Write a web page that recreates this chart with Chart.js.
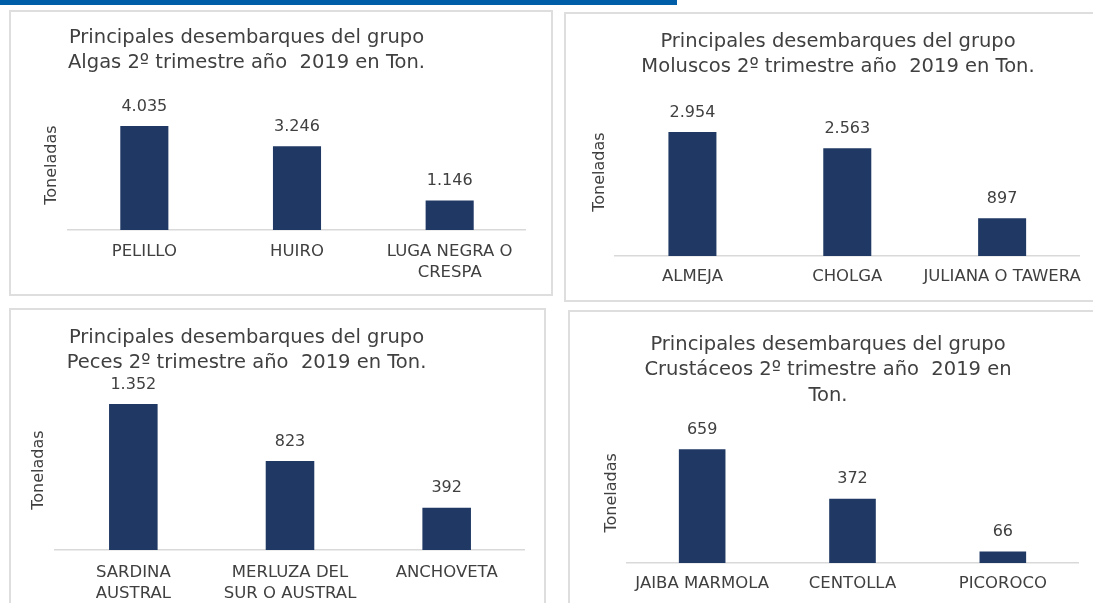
<!DOCTYPE html>
<html>
<head>
<meta charset="utf-8">
<script src="https://cdn.jsdelivr.net/npm/chart.js@4/dist/chart.umd.min.js"></script>
<style>
  html, body { margin: 0; padding: 0; background: #fff; overflow: hidden; }
  body { width: 1093px; height: 603px; position: relative; }
  .topbar { position: absolute; left: 0; top: 0; width: 677px; height: 5px; background: #005ea8; }
  .panel { position: absolute; box-sizing: border-box; border: 2px solid #dedede; }
  canvas { position: absolute; }
</style>
</head>
<body>
<div class="topbar"></div>
<div class="panel" style="left:9px;top:10px;width:544px;height:286px"></div>
<div class="panel" style="left:564px;top:12px;width:540px;height:290px"></div>
<div class="panel" style="left:9px;top:308px;width:537px;height:320px"></div>
<div class="panel" style="left:568px;top:310px;width:540px;height:320px"></div>

<canvas id="algasChart" width="559" height="283" style="left:-33px;top:11px"></canvas>
<canvas id="moluscosChart" width="517" height="283" style="left:576px;top:14px"></canvas>
<canvas id="pecesChart" width="557" height="306" style="left:-32px;top:310px"></canvas>
<canvas id="crustaceosChart" width="533" height="292" style="left:560px;top:312px"></canvas>

<script>
// data
const algasLabels = ["PELILLO", "HUIRO", ["LUGA NEGRA O", "CRESPA"]];
const algasValues = [4035, 3246, 1146];
const algasTitle = ["Principales desembarques del grupo", "Algas 2º trimestre año  2019 en Ton."];

const moluscosLabels = ["ALMEJA", "CHOLGA", "JULIANA O TAWERA"];
const moluscosValues = [2954, 2563, 897];
const moluscosTitle = ["Principales desembarques del grupo", "Moluscos 2º trimestre año  2019 en Ton."];

const pecesLabels = [["SARDINA", "AUSTRAL"], ["MERLUZA DEL", "SUR O AUSTRAL"], "ANCHOVETA"];
const pecesValues = [1352, 823, 392];
const pecesTitle = ["Principales desembarques del grupo", "Peces 2º trimestre año  2019 en Ton."];

const crustaceosLabels = ["JAIBA MARMOLA", "CENTOLLA", "PICOROCO"];
const crustaceosValues = [659, 372, 66];
const crustaceosTitle = ["Principales desembarques del grupo", "Crustáceos 2º trimestre año  2019 en", "Ton."];

const FONT = "'DejaVu Sans', 'Open Sans', sans-serif";
const TEXT = "#404040";
const BAR = "#1f3864";

// value labels above the bars, 4035 -> 4.035
function fmt(v) {
  return String(v).replace(/\B(?=(\d{3})+(?!\d))/g, ".");
}

const barValues = {
  id: "barValues",
  afterDatasetsDraw(chart) {
    const ctx = chart.ctx;
    ctx.save();
    ctx.font = "16px " + FONT;
    ctx.fillStyle = TEXT;
    ctx.textAlign = "center";
    ctx.textBaseline = "middle";
    chart.getDatasetMeta(0).data.forEach((bar, i) => {
      ctx.fillText(fmt(chart.data.datasets[0].data[i]), bar.x, bar.y - 19.5);
    });
    ctx.restore();
  },
};

function makeChart(id, labels, values, title, o) {
  new Chart(document.getElementById(id), {
    type: "bar",
    data: {
      labels: labels,
      datasets: [
        {
          data: values,
          backgroundColor: BAR,
          categoryPercentage: 1,
          barPercentage: o.barPct,
        },
      ],
    },
    options: {
      responsive: false,
      animation: false,
      layout: { padding: { left: o.padLeft, right: o.padRight, top: 0, bottom: 0 } },
      plugins: {
        legend: { display: false },
        tooltip: { enabled: false },
        title: {
          display: true,
          text: title,
          align: "center",
          color: TEXT,
          font: { family: FONT, size: 19.5, weight: "normal", lineHeight: 1.311 },
          padding: { top: o.titleTop, bottom: o.titleBottom },
        },
      },
      scales: {
        x: {
          grid: { display: false, drawTicks: false },
          border: { display: true, color: "#d9d9d9", width: 1.5 },
          ticks: {
            color: TEXT,
            padding: o.tickPad,
            font: { family: FONT, size: 16.5, lineHeight: 1.273 },
            maxRotation: 0,
            autoSkip: false,
          },
        },
        y: {
          min: 0,
          max: o.max,
          grid: { display: false, drawTicks: false },
          border: { display: false },
          ticks: { display: false },
          title: {
            display: true,
            text: "Toneladas",
            color: TEXT,
            font: { family: FONT, size: 16 },
            padding: { top: o.yTitleTop, bottom: o.yTitleBottom },
          },
        },
      },
    },
    plugins: [barValues],
  });
}

makeChart("algasChart", algasLabels, algasValues, algasTitle, {
  barPct: 0.315, padLeft: 0, padRight: 0, titleTop: 14, titleBottom: 24,
  tickPad: 11, max: 5034, yTitleTop: 75.4, yTitleBottom: 6.4,
});
makeChart("moluscosChart", moluscosLabels, moluscosValues, moluscosTitle, {
  barPct: 0.31, padLeft: 20, padRight: 13, titleTop: 15, titleBottom: 8,
  tickPad: 10, max: 3997, yTitleTop: -5.6, yTitleBottom: 5.4,
});
makeChart("pecesChart", pecesLabels, pecesValues, pecesTitle, {
  barPct: 0.31, padLeft: 0, padRight: 0, titleTop: 15, titleBottom: 14,
  tickPad: 12, max: 1480, yTitleTop: 61.4, yTitleBottom: 6.4,
});
makeChart("crustaceosChart", crustaceosLabels, crustaceosValues, crustaceosTitle, {
  barPct: 0.31, padLeft: 18, padRight: 15, titleTop: 20, titleBottom: 14,
  tickPad: 10, max: 813, yTitleTop: 24.4, yTitleBottom: 5.4,
});
</script>
</body>
</html>
